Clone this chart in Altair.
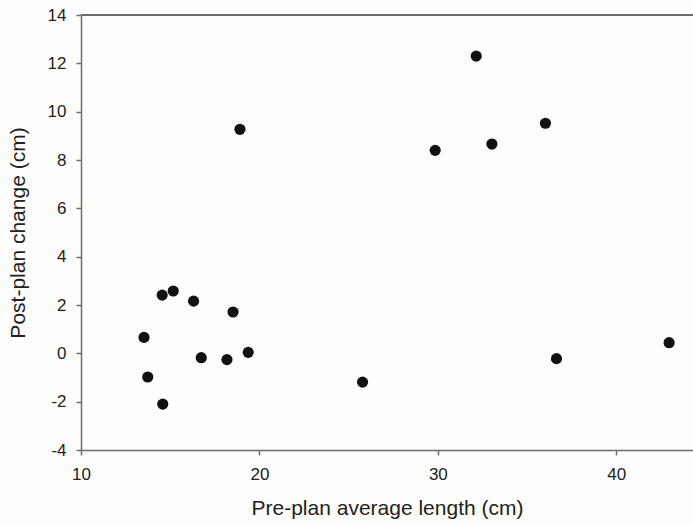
import altair as alt
import pandas as pd

pre_length = [13.53, 13.74, 14.58, 16.74, 18.18, 19.37, 14.55, 15.17, 16.31, 18.52,
              32.15, 36.03, 33.03, 29.85, 18.91, 25.78, 36.65, 42.96]
post_change = [0.66, -0.98, -2.10, -0.18, -0.26, 0.04, 2.41, 2.58, 2.16, 1.71,
               12.30, 9.52, 8.66, 8.40, 9.27, -1.19, -0.22, 0.44]

df = pd.DataFrame({"x": pre_length, "y": post_change})

W, H = 612, 435
axis_color = "#6e6e6e"
font = "Liberation Sans"

points = alt.Chart(df).mark_circle(size=125, color="#111111", opacity=1).encode(
    x=alt.X("x:Q", scale=alt.Scale(domain=[10, 44.3], nice=False, zero=False),
            axis=alt.Axis(values=[10, 20, 30, 40], title="Pre-plan average length (cm)",
                          grid=False, domainColor=axis_color, tickColor=axis_color,
                          domainWidth=1.5, tickWidth=1.5, tickSize=5,
                          labelFlush=False, labelExpr="toString(datum.value)",
                          labelFontSize=17, labelColor="#222222", labelPadding=11,
                          labelFont=font, titleFont=font,
                          titleFontSize=21, titleFontWeight="normal", titleColor="#222222",
                          titlePadding=15)),
    y=alt.Y("y:Q", scale=alt.Scale(domain=[-4, 14], nice=False, zero=False),
            axis=alt.Axis(values=list(range(-4, 15, 2)), title="Post-plan change (cm)",
                          grid=False, domainColor=axis_color, tickColor=axis_color,
                          domainWidth=1.5, tickWidth=1.5, tickSize=5,
                          labelFlush=False, labelExpr="toString(datum.value)",
                          labelFontSize=17, labelColor="#222222", labelPadding=10,
                          labelFont=font, titleFont=font,
                          titleFontSize=21, titleFontWeight="normal", titleColor="#222222",
                          titlePadding=19)),
)

top_border = alt.Chart(df).mark_rule(color=axis_color, strokeWidth=1.5).encode(
    x=alt.value(0), x2=alt.value(W), y=alt.value(0)
)

chart = alt.layer(top_border, points).properties(
    width=W, height=H,
    autosize=alt.AutoSizeParams(type="none"),
    padding={"left": 81, "top": 15, "right": 0, "bottom": 75},
    background="#fdfdfb",
).configure_view(stroke=None)

chart.save("out.html", embed_options={"renderer": "svg", "actions": False})
